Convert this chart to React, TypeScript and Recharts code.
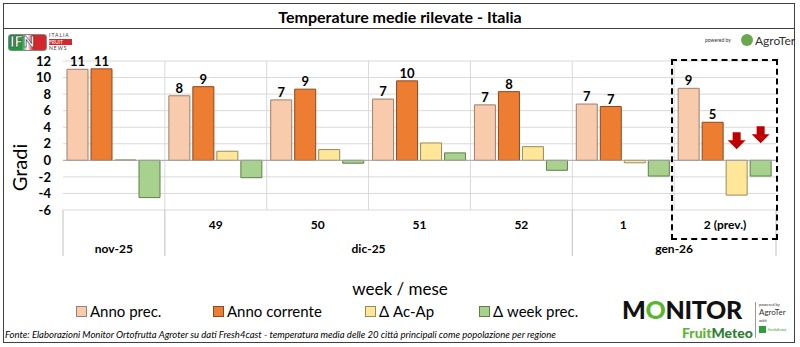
import React from "react";
import {
  BarChart,
  Bar,
  XAxis,
  YAxis,
  CartesianGrid,
  Legend,
  LabelList,
  ReferenceLine,
} from "recharts";

// categories
const weeks = ["", "49", "50", "51", "52", "1", "2 (prev.)"];
const months = ["nov-25", "dic-25", "dic-25", "dic-25", "dic-25", "gen-26", "gen-26"];

// series (gradi)
const annoPrec = [11.0, 7.8, 7.3, 7.4, 6.7, 6.8, 8.7];
const annoCorrente = [11.05, 8.9, 8.6, 9.6, 8.3, 6.5, 4.6];
const deltaAcAp = [0.05, 1.1, 1.3, 2.1, 1.65, -0.3, -4.2];
const deltaWeek = [-4.5, -2.1, -0.35, 0.9, -1.2, -1.9, -1.9];

const yTicks = [-6, -4, -2, 0, 2, 4, 6, 8, 10, 12];

const data = weeks.map((w, i) => ({
  week: w,
  month: months[i],
  prec: annoPrec[i],
  corr: annoCorrente[i],
  acap: deltaAcAp[i],
  wk: deltaWeek[i],
}));

const seriesOrder = ["prec", "corr", "acap", "wk"];
const legendItemW = [137, 152, 114, 100];

const FONT = "Lato, 'Open Sans', sans-serif";
const W = 800;
const H = 347;
const M = { top: 61, right: 24, left: 0, bottom: 91 };
const Y_W = 63;
const PLOT_W = W - Y_W - M.right;
const PLOT_BOTTOM = 210;
const SEP_BOTTOM = 256;

const colors: Record<string, { fill: string; stroke: string }> = {
  prec: { fill: "#F8CBAD", stroke: "#9c7f6c" },
  corr: { fill: "#ED7D31", stroke: "#8a4a1e" },
  acap: { fill: "#FFE699", stroke: "#9a8a55" },
  wk: { fill: "#A9D18E", stroke: "#5f7f4a" },
};

const WeekTick = (props: any) => {
  const { x, y, payload } = props;
  return (
    <text x={x} y={y + 11} textAnchor="middle" fontSize={12} fontWeight={700} fill="#000" fontFamily={FONT}>
      {payload.value}
    </text>
  );
};

const MonthTick = (props: any) => {
  const { x, y, index } = props;
  const band = PLOT_W / months.length;
  const left = x - band / 2;
  const isStart = index === 0 || months[index] !== months[index - 1];
  let n = 1;
  while (index + n < months.length && months[index + n] === months[index]) n++;
  return (
    <g>
      {isStart && (
        <line x1={left} x2={left} y1={PLOT_BOTTOM} y2={SEP_BOTTOM} stroke="#bfbfbf" />
      )}
      {isStart && (
        <text x={left + (n * band) / 2} y={y + 7} textAnchor="middle" fontSize={12} fontWeight={700} fill="#000" fontFamily={FONT}>
          {months[index]}
        </text>
      )}
      {index === months.length - 1 && (
        <line x1={left + band} x2={left + band} y1={PLOT_BOTTOM} y2={SEP_BOTTOM} stroke="#bfbfbf" />
      )}
    </g>
  );
};

// red down arrows over the forecast deltas
const arrowLabel = (lift: number) => (props: any) => {
  const { x, y, width, height, index, value } = props;
  if (index !== weeks.length - 1) return null;
  const y0 = Number(y);
  const y1 = Number(y) + Number(height);
  const zero = Number(value) >= 0 ? Math.max(y0, y1) : Math.min(y0, y1);
  const cx = Number(x) + Number(width) / 2;
  const tip = zero - lift;
  const top = tip - 17;
  const pts = [
    [cx - 4, top],
    [cx + 4, top],
    [cx + 4, top + 8],
    [cx + 9, top + 8],
    [cx, tip],
    [cx - 9, top + 8],
    [cx - 4, top + 8],
  ]
    .map((p) => p.join(","))
    .join(" ");
  return <polygon points={pts} fill="#C00000" />;
};

const renderLegend = (props: any) => {
  const payload = [...props.payload].sort(
    (a: any, b: any) => seriesOrder.indexOf(a.dataKey) - seriesOrder.indexOf(b.dataKey)
  );
  return (
    <div style={{ display: "flex", paddingLeft: 76, fontFamily: FONT, fontSize: 15, color: "#000" }}>
      {payload.map((p: any, i: number) => {
        const c = colors[p.dataKey as string];
        return (
          <div key={p.value} style={{ display: "flex", alignItems: "center", width: legendItemW[i], whiteSpace: "nowrap" }}>
            <span
              style={{
                display: "inline-block",
                width: 9,
                height: 9,
                background: c.fill,
                border: `1px solid ${c.stroke}`,
                marginRight: 3,
              }}
            />
            <span>{p.value}</span>
          </div>
        );
      })}
    </div>
  );
};

const tinyText = { fontFamily: FONT, position: "absolute" as const, whiteSpace: "nowrap" as const };

export default function App() {
  return (
    <div style={{ position: "absolute", left: 0, top: 0, width: W, height: H, background: "#fff", fontFamily: FONT }}>
      <div style={{ position: "absolute", left: 3, top: 3, width: 790, height: 338, border: "1.5px solid #404040" }} />
      <div style={{ position: "absolute", left: 3, top: 28, width: 792, height: 0, borderTop: "1.5px solid #404040" }} />
      <div style={{ ...tinyText, left: 0, top: 7, width: W, textAlign: "center", fontSize: 16, fontWeight: 700 }}>
        Temperature medie rilevate - Italia
      </div>

      {/* IFN logo */}
      <div style={{ ...tinyText, left: 8, top: 34, width: 37, height: 15, borderRadius: 3, background: "linear-gradient(90deg,#1f9a3a 0%,#1f9a3a 35%,#ffffff 50%,#d3272c 65%,#d3272c 100%)", border: "1px solid #888" }} />
      <div style={{ ...tinyText, left: 10, top: 32, fontSize: 15, fontWeight: 900, color: "#fff", WebkitTextStroke: "0.6px #333" }}>IFN</div>
      <div style={{ ...tinyText, left: 49, top: 32, fontSize: 5, letterSpacing: 1, color: "#333" }}>ITALIA</div>
      <div style={{ ...tinyText, left: 49, top: 39, width: 23, height: 6, background: "#d3272c", fontSize: 5, color: "#fff", lineHeight: "6px" }}>FRUIT</div>
      <div style={{ ...tinyText, left: 49, top: 45, fontSize: 5, letterSpacing: 1, color: "#333" }}>NEWS</div>

      {/* powered by AgroTer */}
      <div style={{ ...tinyText, left: 705, top: 37, fontSize: 5, color: "#333" }}>powered by</div>
      <div style={{ ...tinyText, left: 741, top: 34, width: 12, height: 12, borderRadius: 6, background: "#6aa84f" }} />
      <div style={{ ...tinyText, left: 755, top: 33, fontSize: 12, color: "#333" }}>AgroTer</div>

      <BarChart
        width={W}
        height={H}
        data={data}
        margin={M}
        barCategoryGap={4}
        barGap={3}
        style={{ position: "absolute", left: 0, top: 0 }}
      >
        <CartesianGrid
          stroke="#d9d9d9"
          verticalCoordinatesGenerator={({ offset }: any) =>
            Array.from({ length: weeks.length - 1 }, (_, i) => offset.left + ((i + 1) * offset.width) / weeks.length)
          }
        />
        <XAxis xAxisId="a1" dataKey="week" interval={0} axisLine={false} tickLine={false} height={28} tick={<WeekTick />} />
        <XAxis xAxisId="b2" dataKey="month" interval={0} axisLine={false} tickLine={false} height={18} tick={<MonthTick />} />
        <YAxis
          width={Y_W}
          domain={[-6, 12]}
          ticks={yTicks}
          interval={0}
          axisLine={false}
          tickLine={false}
          tickMargin={6}
          tick={{ fontSize: 13, fontWeight: 700, fill: "#000", fontFamily: FONT }}
          label={{
            value: "Gradi",
            angle: -90,
            position: "insideLeft",
            offset: 20,
            dy: 32,
            style: { fontSize: 20, fill: "#000", fontFamily: FONT, textAnchor: "middle" },
          }}
        />
        <ReferenceLine xAxisId="a1" y={0} stroke="#a6a6a6" />
        <Bar xAxisId="a1" dataKey="prec" name="Anno prec." fill={colors.prec.fill} stroke={colors.prec.stroke} isAnimationActive={false}>
          <LabelList dataKey="prec" position="top" offset={3} formatter={(v: any) => Math.round(Number(v))} style={{ fontSize: 13, fontWeight: 700, fill: "#000", fontFamily: FONT }} />
        </Bar>
        <Bar xAxisId="a1" dataKey="corr" name="Anno corrente" fill={colors.corr.fill} stroke={colors.corr.stroke} isAnimationActive={false}>
          <LabelList dataKey="corr" position="top" offset={3} formatter={(v: any) => Math.round(Number(v))} style={{ fontSize: 13, fontWeight: 700, fill: "#000", fontFamily: FONT }} />
        </Bar>
        <Bar xAxisId="a1" dataKey="acap" name="Δ Ac-Ap" fill={colors.acap.fill} stroke={colors.acap.stroke} isAnimationActive={false}>
          <LabelList dataKey="acap" content={arrowLabel(11)} />
        </Bar>
        <Bar xAxisId="a1" dataKey="wk" name="Δ week prec." fill={colors.wk.fill} stroke={colors.wk.stroke} isAnimationActive={false}>
          <LabelList dataKey="wk" content={arrowLabel(17)} />
        </Bar>
        <Legend
          layout="horizontal"
          verticalAlign="middle"
          align="center"
          content={renderLegend}
          wrapperStyle={{ top: 302, left: 0, width: W }}
        />
      </BarChart>

      {/* forecast box */}
      <div style={{ position: "absolute", left: 671, top: 59, width: 103, height: 177, border: "2px dashed #000" }} />

      <div style={{ ...tinyText, left: 0, top: 278, width: W, textAlign: "center", fontSize: 17 }}>week / mese</div>
      <div style={{ ...tinyText, left: 5, top: 329, fontSize: 9.5, fontStyle: "italic", color: "#000" }}>
        Fonte: Elaborazioni Monitor Ortofrutta Agroter su dati Fresh4cast - temperatura media delle 20 città principali come popolazione per regione
      </div>

      {/* MONITOR FruitMeteo logo */}
      <div style={{ ...tinyText, left: 622, top: 297, fontSize: 25, lineHeight: "25px", fontWeight: 900, color: "#111", letterSpacing: -0.3 }}>
        M<span style={{ color: "#5cb531" }}>O</span>NITOR
      </div>
      <div style={{ ...tinyText, left: 682, top: 326, fontSize: 14, lineHeight: "14px", fontWeight: 900, color: "#5cb531" }}>
        Fruit<span style={{ color: "#2e7d32" }}>Meteo</span>
      </div>
      <div style={{ position: "absolute", left: 755, top: 302, width: 0, height: 36, borderLeft: "1px solid #999" }} />
      <div style={{ ...tinyText, left: 759, top: 302, fontSize: 4, color: "#333" }}>powered by</div>
      <div style={{ ...tinyText, left: 759, top: 307, fontSize: 8, color: "#333" }}>AgroTer</div>
      <div style={{ ...tinyText, left: 759, top: 318, fontSize: 4, color: "#333" }}>with</div>
      <div style={{ ...tinyText, left: 759, top: 326, width: 7, height: 7, background: "#2e9e3a" }} />
      <div style={{ ...tinyText, left: 768, top: 327, fontSize: 4, color: "#2e9e3a" }}>fresh4cast</div>
    </div>
  );
}
